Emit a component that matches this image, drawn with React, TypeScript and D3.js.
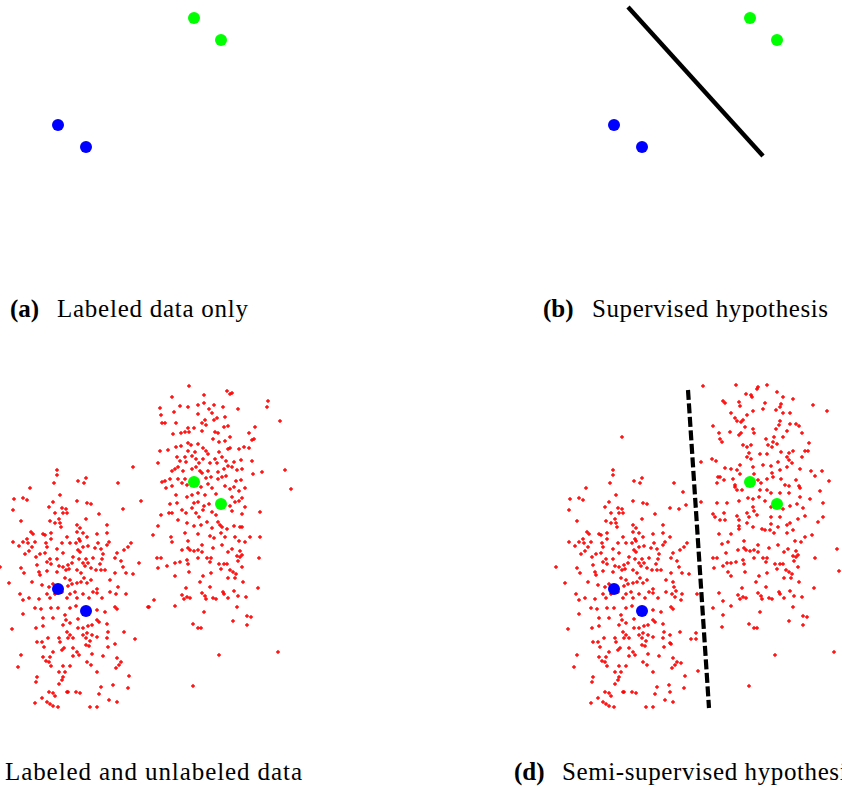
import React from 'react';
import * as d3 from 'd3';

type Pt = [number, number];

// Labeled points (data units)
const labeledBlue: Pt[] = [[5.8, 17.5], [8.6, 15.3]];
const labeledGreen: Pt[] = [[19.4, 28.2], [22.1, 26.0]];

// Unlabeled points around the blue class (shared by panels c and d)
const unlabeledLeftCore: Pt[] = [
  [5.7,29.4],[5.7,28.9],[5.4,28.1],[7.8,28.3],[8.6,28.6],[8.4,28.1],[11.8,28.1],[3.0,27.6],[6.0,26.9],[1.4,26.5],[2.3,26.6],[2.7,26.4],[7.7,26.3],[8.7,26.1],[9.1,26.0],[5.3,26.2],[1.3,25.4],[4.9,25.7],[6.2,25.6],[6.6,25.5],[6.7,25.1],[6.3,25.1],[5.5,25.1],[12.3,25.5],[9.9,25.0],[5.9,24.5],[5.0,24.3],[2.1,24.3],[5.5,24.1],[8.6,24.5],[6.0,24.1],[6.1,23.7],[7.7,23.9],[8.0,23.6],[10.7,23.9],[3.1,23.2],[3.3,23.0],[4.5,22.9],[4.3,23.0],[5.1,23.1],[7.7,23.2],[8.3,23.1],[9.7,23.0],[10.7,23.1],[2.7,22.5],[5.1,22.5],[6.7,22.7],[7.9,22.5],[8.7,22.7],[1.3,22.2],[2.3,22.2],[2.8,22.1],[3.5,22.2],[4.6,22.1],[6.2,22.1],[7.0,22.1],[7.6,22.1],[8.0,22.3],[9.8,22.1],[10.9,22.2],[13.1,22.1],[1.9,21.8],[3.2,21.7],[4.7,21.7],[5.7,21.5],[7.8,21.4],[8.3,21.7],[8.8,21.8],[9.5,21.6],[10.1,21.5],[10.7,21.9],[12.4,21.4],[12.8,21.7],[2.9,21.3],[2.5,21.0],[4.0,21.0],[4.5,21.1],[6.3,21.1],[8.0,21.2],[10.3,21.0],[11.7,21.1],[3.6,20.7],[5.0,20.5],[5.7,20.5],[7.3,20.7],[7.9,20.5],[8.6,20.5],[9.3,20.6],[10.2,20.5],[11.5,20.6],[3.7,19.9],[4.7,20.2],[5.1,20.0],[5.9,19.8],[6.3,19.7],[6.8,19.9],[7.2,20.1],[8.3,20.1],[8.8,20.1],[10.0,20.0],[12.1,20.3],[0.0,19.7],[2.1,19.6],[2.4,19.1],[3.9,19.2],[4.7,19.3],[5.7,19.2],[6.6,19.4],[6.9,19.5],[7.7,19.4],[8.1,19.1],[8.5,19.8],[9.1,19.6],[9.6,19.4],[10.1,19.4],[10.5,19.4],[11.5,19.1],[12.3,19.7],[12.6,19.1],[13.3,19.0],[0.9,18.1],[3.2,18.2],[4.0,18.9],[4.2,17.9],[4.9,17.7],[5.3,18.0],[6.5,18.6],[7.0,18.4],[6.8,17.8],[7.2,18.0],[7.7,18.1],[8.1,18.2],[8.4,18.6],[8.7,18.1],[9.1,18.4],[9.7,17.5],[11.0,18.4],[11.8,17.7],
  [2.0,17.0],[2.3,16.4],[2.9,16.6],[3.9,16.5],[4.7,17.0],[5.0,16.6],[5.5,17.0],[6.2,17.2],[6.7,16.6],[7.0,17.0],[7.5,17.2],[7.7,16.6],[8.3,17.0],[8.9,16.6],[9.3,17.2],[9.7,17.1],[10.2,16.6],[11.0,17.2],[11.6,17.0],[12.6,17.0],[3.5,15.6],[4.1,15.5],[5.1,15.6],[5.8,15.6],[7.0,15.6],[7.6,15.8],[9.7,15.4],[10.5,15.2],[11.5,15.7],[11.7,15.5],[2.3,15.0],[4.3,14.6],[5.3,14.6],[6.5,14.9],[7.8,14.5],[6.6,14.4],[9.7,14.4],[9.9,14.2],[10.7,14.0],[6.3,13.9],[7.0,14.1],[7.8,13.6],[8.3,13.6],[8.8,13.8],[9.2,13.9],[4.3,13.8],[3.6,13.6],[1.2,13.5],[6.7,13.2],[9.2,12.9],[9.7,12.7],[7.0,12.9],[7.3,12.6],[8.3,12.9],[8.7,13.1],[10.8,13.2],[12.4,13.2],[4.8,12.6],[5.9,12.6],[6.0,12.2],[6.8,12.6],[3.7,12.2],[4.2,12.2],[8.6,12.6],[9.0,12.3],[10.7,12.6],[13.5,12.5],[4.4,11.7],[5.3,11.2],[6.2,11.4],[6.4,11.6],[7.3,11.6],[7.7,11.2],[8.6,11.9],[8.9,11.8],[10.8,11.7],[11.5,12.0],[2.1,10.9],[4.3,10.7],[5.0,10.7],[7.3,10.8],[7.9,10.9],[9.2,11.0],[10.3,10.8],[11.7,10.6],[4.6,10.3],[4.9,10.2],[5.1,9.8],[6.3,9.8],[7.0,9.8],[8.7,10.2],[9.1,9.9],[12.1,10.2],[11.9,9.9],[11.6,9.6],[1.8,9.7],[9.7,9.2],[3.7,8.7],[5.9,9.2],[6.5,9.2],[6.3,8.7],[6.2,8.4],[5.9,8.0],[3.6,8.2],[12.9,8.8],[10.1,7.7],[11.3,7.9],[12.8,7.6],[4.9,7.2],[5.3,7.1],[5.5,6.8],[6.7,7.2],[6.8,7.2],[7.6,7.2],[8.0,7.1],[9.9,7.0],[4.2,6.6],[4.7,6.2],[3.5,6.1],[5.0,6.0],[5.3,5.8],[5.8,5.7],[10.9,6.4],[11.7,6.2],[9.0,5.7],[9.7,5.7]
];
// Edge points of the blue-side cluster seen only in panel c
const unlabeledLeftEdgeC: Pt[] = [[13.3,29.7],[14.1,26.3],[13.9,20.1],[14.9,15.7]];
// Edge points of the blue-side cluster seen only in panel d
const unlabeledLeftEdgeD: Pt[] = [
  [6.6,32.7],[12.7,27.2],[13.0,25.9],[11.4,25.6],[11.4,22.7],[11.7,18.2],[12.0,17.3],[11.9,16.7],[12.5,16.4],[14.1,17.0],[11.4,12.9],[11.4,12.1],[14.0,13.1],[14.0,12.5],[12.5,10.1],[14.2,9.3],[11.4,7.2]
];

// Unlabeled points around the green class, upper part in panel c
const unlabeledRightTopC: Pt[] = [
  [18.9,37.8],[22.7,37.3],[23.0,37.0],[23.2,37.1],[17.2,36.7],[20.4,36.9],[26.8,36.3],[26.7,35.7],[16.0,35.6],[18.0,35.8],[18.8,35.7],[19.8,35.9],[20.4,36.1],[21.4,35.9],[22.3,35.7],[23.8,35.5],[20.9,35.5],[21.2,35.1],[16.1,34.9],[17.4,35.2],[19.8,35.0],[22.5,34.7],[21.4,34.4],[21.7,34.6],[20.5,34.4],[20.2,34.1],[20.6,33.9],[16.2,34.1],[16.5,34.1],[17.6,34.1],[28.0,34.3],[18.8,33.6],[19.4,33.6],[20.2,33.3],[21.5,33.2],[21.8,33.1],[22.4,33.7],[22.8,33.8],[25.5,33.7],[17.3,33.0],[18.1,33.1],[18.5,33.2],[18.9,33.2],[24.9,33.1],[23.0,32.7],[21.3,32.5],[22.5,32.3],[21.9,32.2],[25.2,32.4],[25.4,32.5],[16.0,31.3],[16.8,31.4],[17.6,31.7],[18.1,31.8],[18.8,32.1],[19.1,31.9],[19.8,32.0],[20.3,31.6],[20.6,31.3],[21.9,31.2],[22.8,31.5],[23.0,31.6],[23.9,31.5],[24.4,31.7],[24.9,31.6],[18.8,31.3],[19.5,31.2],[20.8,31.0],[17.7,30.7],[18.5,30.7],[19.2,30.8],[19.6,30.5],[20.3,30.5],[21.5,30.5],[22.2,30.7],[22.6,30.3],[23.4,30.2],[24.1,30.4],[25.2,30.3],[15.8,30.1],[18.0,30.3],[18.6,30.2],[19.9,30.1],[21.0,30.1],[21.7,30.1],[22.8,29.8],[23.2,29.7],[23.7,29.4],[24.2,29.5],[26.2,29.2],[28.5,29.4],[17.2,29.3],[17.5,29.5],[17.8,29.7],[18.3,29.3],[19.2,29.5],[19.6,29.7],[20.0,29.3],[20.2,29.1],[20.8,29.3],[21.8,29.2],[22.4,29.5],[25.3,29.0],[16.5,28.3],[17.0,28.5],[16.2,28.2],[17.8,28.5],[18.5,28.5],[20.6,28.6],[21.1,28.7],[21.8,28.5],[22.2,28.7],[22.6,28.8],[23.6,28.3],[24.1,28.4],[29.1,27.5],[16.6,27.6],[17.2,27.8],[18.2,28.1],[18.7,27.9],[20.1,27.7],[20.8,28.0],[21.2,27.6],[22.5,27.8],[23.0,27.5],[23.4,27.7],[23.9,27.3],[24.5,27.6],[17.6,26.9],[18.7,26.7],[19.2,26.9],[19.8,27.1],[20.5,26.9],[21.6,27.0],[23.2,26.7],[24.2,26.6],[17.0,26.0],[17.7,26.1],[19.4,26.1],[19.8,26.2],[20.4,25.8],[20.9,26.0],[23.0,25.8],[23.5,26.2],[23.9,26.3],[24.5,25.7],[26.0,25.2],[16.1,24.9],[16.9,25.1],[17.2,25.1],[18.2,25.4],[18.6,25.1],[19.2,25.6],[19.6,25.1],[19.9,24.7],[20.3,25.4],[21.2,25.2],[21.6,24.9],[23.2,25.3],[24.2,25.0],[15.8,23.8],[17.8,24.4],[18.7,24.1],[19.4,23.8],[20.1,23.9],[20.7,24.2],[21.2,23.6],[21.8,24.2],[22.0,23.9],[22.2,23.7],[22.7,23.5],[23.4,23.8],[24.0,23.7],[24.2,23.7],[15.3,22.9],[17.1,22.7],[18.5,23.1],[19.8,23.0],[21.0,22.8],[21.4,22.6],[22.1,23.1],[22.5,22.7],[23.5,22.7],[25.0,22.7],[26.0,22.7],[14.8,15.7],[15.4,16.4]
];

// Unlabeled points around the green class, upper part in panel d
const unlabeledRightTopD: Pt[] = [
  [14.7,37.8],[18.0,37.9],[20.2,37.7],[20.1,37.5],[21.1,37.9],[22.1,37.2],[19.0,37.0],[19.5,36.9],[19.6,36.7],[22.7,36.7],[23.7,36.5],[16.7,36.3],[16.9,36.1],[18.3,36.2],[18.4,35.8],[20.9,36.1],[22.5,36.0],[22.4,35.7],[25.7,35.9],[27.1,35.3],[17.5,35.1],[19.7,35.3],[19.1,34.9],[20.7,35.5],[22.0,35.4],[22.7,35.1],[23.4,35.1],[17.9,34.6],[18.1,34.3],[18.5,34.2],[18.7,34.4],[22.4,34.3],[22.3,33.9],[22.0,33.5],[23.4,34.0],[24.0,34.0],[24.3,33.8],[15.7,33.8],[18.9,33.7],[19.7,33.5],[19.8,33.1],[18.5,33.1],[18.3,32.9],[17.4,33.2],[16.3,33.1],[23.1,33.3],[24.6,33.1],[21.8,32.7],[22.7,32.7],[16.4,32.5],[16.6,32.2],[21.0,32.5],[21.7,32.2],[22.1,32.0],[25.3,32.1],[25.2,31.3],[19.1,31.7],[19.5,31.9],[18.7,31.9],[21.6,31.7],[22.5,31.2],[23.3,31.1],[23.7,31.3],[24.9,31.3],[19.3,31.1],[19.1,30.7],[19.5,30.5],[20.4,31.0],[21.1,31.0],[21.2,31.9],[22.2,30.2],[23.1,30.7],[23.3,30.4],[24.6,30.7],[15.6,30.5],[16.0,30.3],[18.4,29.9],[17.5,29.5],[16.9,29.6],[18.1,29.4],[19.7,29.7],[20.7,29.9],[21.5,29.8],[22.4,29.4],[23.1,29.7],[23.6,30.1],[24.4,29.5],[25.5,29.3],[26.6,29.3],[16.2,28.7],[16.4,28.7],[16.8,28.4],[17.7,28.5],[17.9,27.9],[18.4,29.0],[19.8,29.0],[20.2,28.4],[20.5,28.1],[21.1,28.5],[21.6,29.1],[21.7,28.7],[22.5,28.5],[22.9,27.9],[23.3,27.8],[24.0,28.4],[24.3,27.8],[25.9,28.8],[27.3,28.3],[26.4,27.3],[14.5,30.2],[16.1,28.1],[18.1,27.4],[17.9,27.7],[18.6,27.4],[20.4,27.4],[21.1,27.4],[21.5,27.1],[22.4,27.1],[23.3,27.1],[24.4,27.6],[25.4,26.5],[26.7,26.1],[14.5,26.2],[16.1,26.1],[17.1,26.1],[18.3,26.3],[19.2,26.6],[19.7,26.5],[20.3,26.7],[19.7,25.7],[19.8,25.3],[20.9,26.3],[21.5,25.7],[22.7,25.5],[23.4,25.8],[24.4,26.7],[24.1,26.0],[24.7,25.6],[15.7,25.0],[15.9,24.7],[16.4,24.4],[16.9,24.4],[16.8,25.1],[18.1,24.8],[18.3,24.4],[19.1,25.1],[19.3,24.7],[20.1,24.9],[21.5,24.7],[22.4,24.7],[23.4,24.1],[24.2,24.5],[24.9,24.8],[26.2,24.2],[26.7,24.7],[16.3,23.0],[17.5,23.0],[18.3,23.8],[18.3,23.5],[19.1,24.1],[19.7,23.7],[20.6,23.5],[20.9,23.4],[21.5,24.0],[21.4,23.4],[21.8,23.1],[22.2,23.7],[23.1,23.9],[23.1,23.1],[23.7,23.4],[24.9,22.7],[25.6,22.9],
  [16.6,22.0],[17.0,21.1],[17.1,20.1],[17.2,19.2],[16.3,17.1],[16.7,16.3],[15.7,15.6],[16.7,14.9],[16.6,13.7],[28.1,21.5],[28.3,19.3]
];

// Unlabeled points around the green class, lower part (shared by c and d)
const unlabeledRightBottom: Pt[] = [
  [17.2,22.2],[18.8,22.3],[23.9,22.3],[24.5,22.2],[20.2,21.9],[18.2,21.4],[18.8,21.6],[19.0,21.4],[19.4,21.3],[19.8,21.4],[20.2,21.2],[21.3,21.6],[22.2,21.9],[23.2,21.5],[22.8,21.2],[24.0,21.3],[15.7,20.6],[16.1,20.6],[16.7,19.8],[15.8,19.6],[17.5,20.1],[18.0,20.2],[18.7,20.4],[18.8,20.0],[18.9,19.2],[19.8,20.6],[20.7,20.6],[21.1,20.6],[21.0,20.2],[21.9,20.0],[22.4,20.0],[22.7,20.0],[22.1,19.5],[23.0,19.4],[23.3,19.2],[23.6,19.0],[24.2,19.7],[23.8,20.3],[24.0,20.7],[23.7,20.8],[24.2,20.9],[25.9,20.6],[17.5,18.8],[20.3,18.8],[21.1,19.1],[22.8,18.6],[23.5,18.6],[20.0,18.2],[18.6,17.6],[21.0,17.7],[24.3,18.2],[25.8,17.6],[18.2,16.9],[18.7,16.7],[18.4,16.5],[19.0,16.6],[20.2,17.1],[20.5,16.8],[20.6,16.5],[21.3,16.6],[21.6,16.5],[22.3,17.2],[22.4,17.0],[22.8,16.6],[23.4,17.3],[23.8,16.8],[24.6,16.7],[17.5,15.8],[20.4,15.2],[23.7,15.7],[24.7,14.8],[25.1,14.7],[24.7,13.9],[23.3,14.3],[19.3,14.0],[19.8,13.6],[20.1,13.6],[21.9,10.9],[27.8,11.2],[19.3,7.8]
];

// Decision boundaries (data units)
const supervisedBoundary: Pt[] = [[7.2, 29.3], [20.7, 14.4]];
const semiSupervisedBoundary: Pt[] = [[13.2, 37.4], [15.3, 5.6]];

// Captions
const captionTags = ['(a)', '(b)', '(c)', '(d)'];
const captionTitles = [
  'Labeled data only',
  'Supervised hypothesis',
  'Labeled and unlabeled data',
  'Semi-supervised hypothesis',
];

const FONT = '"Liberation Serif", "Times New Roman", serif';

export default function App() {
  const x = d3.scaleLinear().domain([0, 28]).range([0, 280]);
  const y = d3.scaleLinear().domain([0, 30]).range([300, 0]);
  const crossPath = d3.symbol().type(d3.symbolCross).size(8)() as string;
  const line = d3
    .line<Pt>()
    .x((d) => x(d[0]))
    .y((d) => y(d[1]));

  const unlabeledC = [...unlabeledLeftCore, ...unlabeledLeftEdgeC, ...unlabeledRightTopC, ...unlabeledRightBottom];
  const unlabeledD = [...unlabeledLeftCore, ...unlabeledLeftEdgeD, ...unlabeledRightTopD, ...unlabeledRightBottom];

  const panels = [
    { tx: 0, ty: 0, unlabeled: [] as Pt[], boundary: null as Pt[] | null, dashed: false,
      tagX: 10, titleX: 57, titleLen: 191, base: 317 },
    { tx: 556, ty: 0, unlabeled: [] as Pt[], boundary: supervisedBoundary, dashed: false,
      tagX: 543, titleX: 592, titleLen: 236, base: 317 },
    { tx: 0, ty: 464, unlabeled: unlabeledC, boundary: null as Pt[] | null, dashed: false,
      tagX: -42, titleX: 5, titleLen: 297, base: 780 },
    { tx: 556, ty: 464, unlabeled: unlabeledD, boundary: semiSupervisedBoundary, dashed: true,
      tagX: 514, titleX: 562, titleLen: 295, base: 780 },
  ];

  return (
    <svg
      width={842}
      height={787}
      style={{ position: 'absolute', left: 0, top: 0, background: '#ffffff' }}
    >
      <rect x={0} y={0} width={842} height={787} fill="#ffffff" />
      {panels.map((p, i) => (
        <g key={i}>
          <g transform={`translate(${p.tx},${p.ty})`}>
            {p.unlabeled.map((d, j) => (
              <path
                key={j}
                d={crossPath}
                transform={`translate(${x(d[0])},${y(d[1])})`}
                fill="#ff0000"
              />
            ))}
            {p.boundary && (
              <path
                d={line(p.boundary) as string}
                fill="none"
                stroke="#000000"
                strokeWidth={p.dashed ? 4.2 : 4.4}
                strokeDasharray={p.dashed ? '10,3.5' : undefined}
              />
            )}
            {labeledBlue.map((d, j) => (
              <circle key={'b' + j} cx={x(d[0])} cy={y(d[1])} r={6} fill="#0000ff" />
            ))}
            {labeledGreen.map((d, j) => (
              <circle key={'g' + j} cx={x(d[0])} cy={y(d[1])} r={6} fill="#00ff00" />
            ))}
          </g>
          <text x={p.tagX} y={p.base} fontFamily={FONT} fontSize={25} fontWeight={700} fill="#000">
            {captionTags[i]}
          </text>
          <text
            x={p.titleX}
            y={p.base}
            fontFamily={FONT}
            fontSize={25}
            fill="#000"
            textLength={p.titleLen}
            lengthAdjust="spacing"
          >
            {captionTitles[i]}
          </text>
        </g>
      ))}
    </svg>
  );
}
